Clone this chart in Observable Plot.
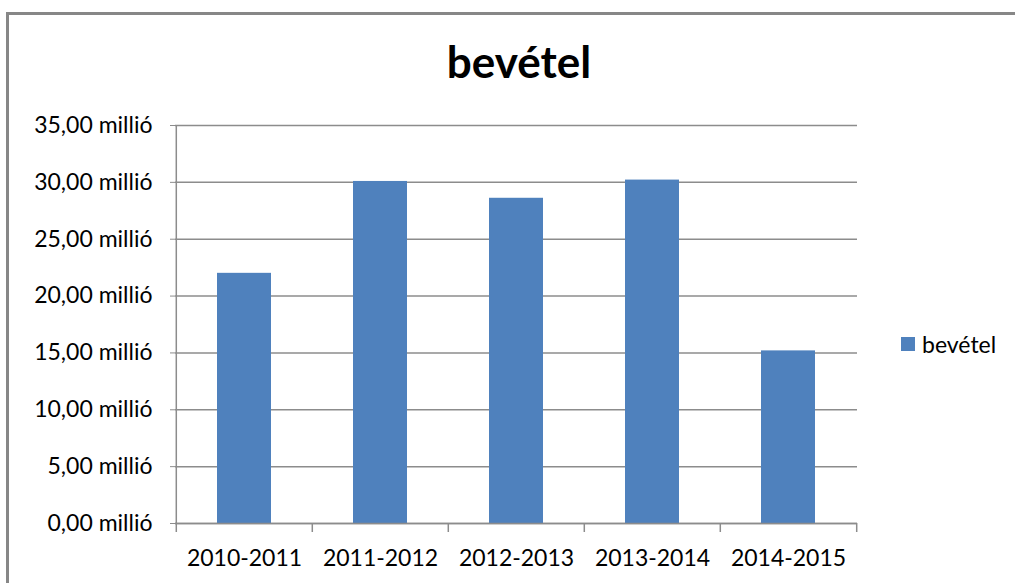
<!DOCTYPE html>
<html>
<head>
<meta charset="utf-8">
<script src="https://cdn.jsdelivr.net/npm/d3@7"></script>
<script src="https://cdn.jsdelivr.net/npm/@observablehq/plot@0.6"></script>
<style>
  html, body { margin: 0; padding: 0; background: #fff; overflow: hidden; width: 1015px; height: 583px; }
  #wrap { position: relative; width: 1015px; height: 583px; overflow: hidden; font-family: Lato, "Open Sans", sans-serif; }
  #frame { position: absolute; left: 6px; top: 12px; width: 1200px; height: 800px; border-top: 3px solid #878787; border-left: 3px solid #878787; border-right: none; border-bottom: none; }
  #title { position: absolute; left: 519px; top: 39px; transform: translateX(-50%); font: bold 44px/44px Lato, sans-serif; color: #000; white-space: nowrap; }
  #chart { position: absolute; left: 0; top: 0; }
  #legend { position: absolute; left: 901px; top: 330px; height: 28px; display: flex; align-items: center; font: 23px Lato, sans-serif; color: #000; }
  #legend .sw { width: 14px; height: 14px; background: #4f81bd; margin-right: 7px; }
</style>
</head>
<body>
<div id="wrap">
  <div id="frame"></div>
  <div id="chart"></div>
  <div id="title">bevétel</div>
  <div id="legend"><span class="sw"></span><span>bevétel</span></div>
</div>
<script>
const periods = ["2010-2011", "2011-2012", "2012-2013", "2013-2014", "2014-2015"];
const revenue = [22.0, 30.08, 28.6, 30.2, 15.18]; // millió
const yTicks = [0, 5, 10, 15, 20, 25, 30, 35];
const seriesName = "bevétel";

const data = periods.map((p, i) => ({period: p, value: revenue[i]}));

const W = 1015, H = 583, mL = 175, mR = 158, mT = 125, mB = 60;
const step = (W - mL - mR) / periods.length;
const grid = "#8c8c8c";
const fmt = d => d.toFixed(2).replace(".", ",") + " millió";

const chart = Plot.plot({
  width: W,
  height: H,
  marginLeft: mL,
  marginRight: mR,
  marginTop: mT,
  marginBottom: mB,
  style: {fontFamily: "Lato, sans-serif", fontSize: "23px", color: "#000", background: "transparent"},
  x: {domain: periods, paddingInner: 0.6, paddingOuter: 0.3, label: null},
  y: {domain: [0, 35], label: null},
  marks: [
    Plot.ruleY(yTicks, {stroke: grid, strokeWidth: 1.5}),
    Plot.barY(data, {x: "period", y: "value", fill: "#4f81bd"}),
    Plot.ruleY([0], {stroke: grid, strokeWidth: 1.5}),
    Plot.ruleX(periods, {x: d => d, y1: 0, y2: 0, insetBottom: -9, dx: -step / 2, stroke: grid, strokeWidth: 1.5}),
    Plot.ruleX([periods[0]], {x: d => d, y1: 35, y2: 0, dx: -step / 2, stroke: grid, strokeWidth: 1.5}),
    Plot.ruleX([periods[periods.length - 1]], {x: d => d, y1: 0, y2: 0, insetBottom: -9, dx: step / 2, stroke: grid, strokeWidth: 1.5}),
    Plot.axisY({ticks: yTicks, tickFormat: fmt, tickSize: 5, tickPadding: 18, stroke: grid, fill: "#000", label: null}),
    Plot.axisX({tickSize: 0, tickPadding: 26, fill: "#000", label: null})
  ]
});
document.getElementById("chart").appendChild(chart);
</script>
</body>
</html>
